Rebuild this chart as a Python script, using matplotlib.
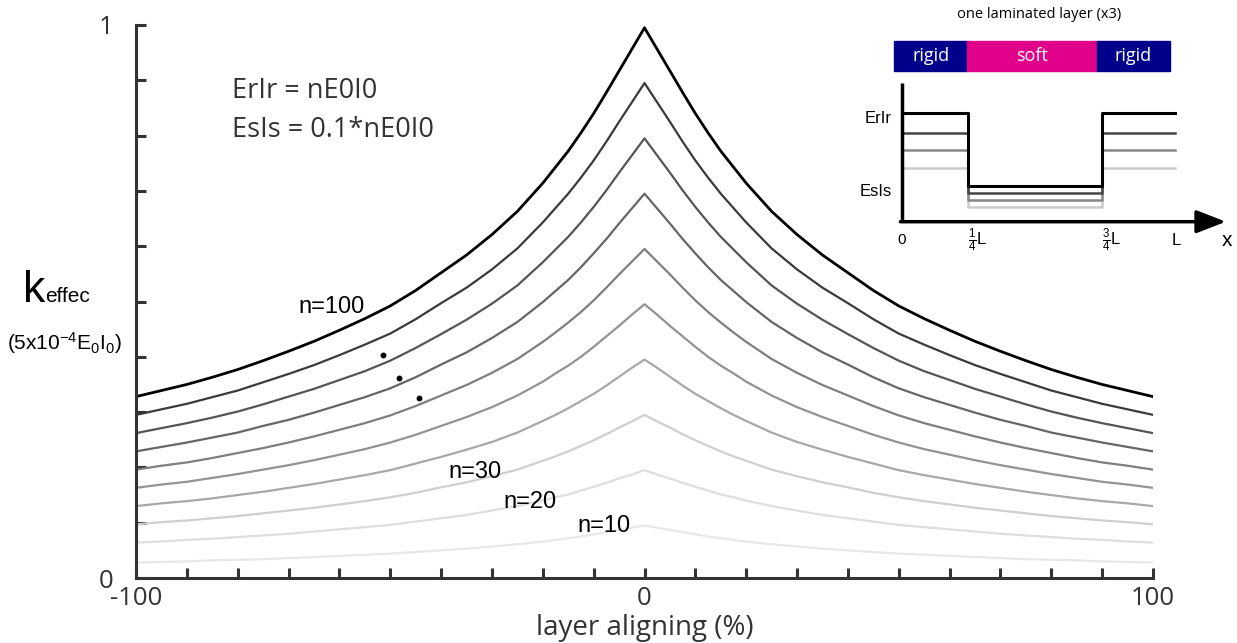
import matplotlib.pyplot as plt
from matplotlib.patches import Rectangle

plt.rcParams['font.family'] = ['Liberation Sans', 'DejaVu Sans']
plt.rcParams['mathtext.fontset'] = 'custom'
plt.rcParams['mathtext.rm'] = 'Liberation Sans'
plt.rcParams['mathtext.it'] = 'Liberation Sans:italic'
plt.rcParams['mathtext.bf'] = 'Liberation Sans:bold'

# curves are symmetric around 0, values read for 0..100
x_half = [0, 2.5, 5, 7.5, 10, 12.5, 15, 17.5, 20, 25, 30, 35, 40, 45, 50,
          55, 60, 65, 70, 75, 80, 85, 90, 95, 100]
n_values = [100, 90, 80, 70, 60, 50, 40, 30, 20, 10]
k_n100 = [0.995, 0.956, 0.917, 0.878, 0.840, 0.805, 0.772, 0.743, 0.714, 0.663, 0.621, 0.584, 0.552,
          0.520, 0.492, 0.469, 0.448, 0.428, 0.410, 0.393, 0.377, 0.363, 0.350, 0.339, 0.328]
k_n90 = [0.895, 0.860, 0.825, 0.789, 0.755, 0.724, 0.695, 0.669, 0.643, 0.596, 0.558, 0.525, 0.497,
         0.468, 0.442, 0.422, 0.403, 0.385, 0.369, 0.354, 0.339, 0.327, 0.315, 0.305, 0.295]
k_n80 = [0.795, 0.764, 0.733, 0.701, 0.671, 0.643, 0.617, 0.594, 0.571, 0.529, 0.496, 0.467, 0.441,
         0.416, 0.393, 0.374, 0.358, 0.342, 0.328, 0.314, 0.301, 0.290, 0.280, 0.271, 0.262]
k_n70 = [0.695, 0.668, 0.641, 0.613, 0.587, 0.562, 0.539, 0.519, 0.499, 0.463, 0.434, 0.408, 0.386,
         0.363, 0.343, 0.327, 0.313, 0.299, 0.286, 0.275, 0.263, 0.254, 0.245, 0.237, 0.229]
k_n60 = [0.595, 0.572, 0.549, 0.525, 0.502, 0.481, 0.462, 0.444, 0.427, 0.396, 0.371, 0.349, 0.330,
         0.311, 0.294, 0.280, 0.268, 0.256, 0.245, 0.235, 0.226, 0.217, 0.209, 0.203, 0.196]
k_n50 = [0.495, 0.476, 0.456, 0.437, 0.418, 0.400, 0.384, 0.370, 0.355, 0.330, 0.309, 0.291, 0.275,
         0.259, 0.245, 0.233, 0.223, 0.213, 0.204, 0.196, 0.188, 0.181, 0.174, 0.169, 0.163]
k_n40 = [0.395, 0.380, 0.364, 0.348, 0.333, 0.320, 0.307, 0.295, 0.284, 0.263, 0.246, 0.232, 0.219,
         0.207, 0.195, 0.186, 0.178, 0.170, 0.163, 0.156, 0.150, 0.144, 0.139, 0.135, 0.130]
k_n30 = [0.295, 0.283, 0.272, 0.260, 0.249, 0.239, 0.229, 0.220, 0.212, 0.196, 0.184, 0.173, 0.164,
         0.154, 0.146, 0.139, 0.133, 0.127, 0.122, 0.117, 0.112, 0.108, 0.104, 0.101, 0.097]
k_n20 = [0.195, 0.187, 0.180, 0.172, 0.165, 0.158, 0.151, 0.146, 0.140, 0.130, 0.122, 0.114, 0.108,
         0.102, 0.096, 0.092, 0.088, 0.084, 0.080, 0.077, 0.074, 0.071, 0.069, 0.066, 0.064]
k_n10 = [0.095, 0.091, 0.087, 0.083, 0.079, 0.075, 0.072, 0.069, 0.066, 0.061, 0.057, 0.053, 0.050,
         0.047, 0.044, 0.042, 0.040, 0.038, 0.036, 0.034, 0.033, 0.032, 0.030, 0.029, 0.028]
curves = [k_n100, k_n90, k_n80, k_n70, k_n60, k_n50, k_n40, k_n30, k_n20, k_n10]
curve_colors = ['#000000', '#3a3a3a', '#555555', '#666666', '#7f7f7f', '#939393',
                '#a8a8a8', '#cfcfcf', '#dedede', '#e8e8e8']

# the three dots between n=100 and the lower curves
dots_x = [-51.4, -48.2, -44.3]
dots_y = [0.403, 0.362, 0.325]

# inset: one laminated layer
bar_edges = [-0.028, 0.246, 0.731, 1.006]
bar_names = ['rigid', 'soft', 'rigid']
bar_colors = ['#00008b', '#e0008a', '#00008b']
layer_x = [0, 0.25, 0.25, 0.75, 0.75, 1.025]
rigid_levels = [1.0, 0.82, 0.66, 0.50]
soft_levels = [0.33, 0.265, 0.20, 0.133]
step_colors = ['#000000', '#444444', '#888888', '#cccccc']

W, H = 1237, 643


def fx(p):
    return p / W


def fy(p):
    return 1 - p / H


fig = plt.figure(figsize=(W / 100, H / 100), dpi=100)
ax = fig.add_axes([fx(136), fy(578), (1153 - 136) / W, (578 - 25) / H])

x_full = [-v for v in x_half[::-1]] + x_half[1:]
for k, c, n in list(zip(curves, curve_colors, n_values))[::-1]:
    y_full = k[::-1] + k[1:]
    lw = 2.0 if n == 100 else 1.6
    ax.plot(x_full, y_full, color=c, lw=lw, solid_joinstyle='round')

ax.plot(dots_x, dots_y, 'o', color='black', ms=3.2)

ax.set_xlim(-100, 100)
ax.set_ylim(0, 1)
for s in ['top', 'right']:
    ax.spines[s].set_visible(False)
for s in ['left', 'bottom']:
    ax.spines[s].set_color('#333333')
    ax.spines[s].set_linewidth(2.2)

xt = list(range(-100, 101, 10))
ax.set_xticks(xt)
ax.set_xticklabels([str(v) if v in (-100, 0, 100) else '' for v in xt],
                   fontfamily='Open Sans', fontsize=18.5, color='#333333')
yt = [i / 10 for i in range(11)]
ax.set_yticks(yt)
ax.set_yticklabels(['0'] + [''] * 9 + ['1'], fontfamily='Open Sans',
                   fontsize=18.5, color='#333333')
ax.tick_params(axis='both', direction='in', length=7, width=2.2, color='#333333')
ax.tick_params(axis='x', pad=6)
ax.tick_params(axis='y', pad=16)
ax.set_xlabel('layer aligning (%)', fontfamily='Open Sans', fontsize=20,
              color='#333333', labelpad=2)

# curve labels
ax.text(-61.5, 0.490, 'n=100', fontsize=17, ha='center', va='center')
ax.text(-33.4, 0.192, 'n=30', fontsize=17, ha='center', va='center')
ax.text(-22.6, 0.138, 'n=20', fontsize=17, ha='center', va='center')
ax.text(-8.0, 0.094, 'n=10', fontsize=17, ha='center', va='center')

# text in the figure
fig.text(fx(232), fy(91), 'ErIr = nE0I0', fontfamily='Open Sans', fontsize=19.5,
         color='#333333', va='center')
fig.text(fx(232), fy(130), 'EsIs = 0.1*nE0I0', fontfamily='Open Sans',
         fontsize=19.5, color='#333333', va='center')
fig.text(fx(23), fy(301.7), 'k', fontsize=32, va='baseline')
fig.text(fx(45), fy(301.7), 'effec', fontsize=15, va='baseline')
fig.text(fx(64), fy(343), r'(5x10$^{\mathregular{-4}}$E$_{\mathregular{0}}$I$_{\mathregular{0}}$)',
         fontsize=15, ha='center', va='center')

# inset
ins = fig.add_axes([fx(901.7), fy(221.7), 266.8 / W, 186.4 / H])
ins.set_xlim(0, 1)
ins.set_ylim(0, 1.72)
ins.axis('off')

for i in range(3):
    ins.add_patch(Rectangle((bar_edges[i], 1.39), bar_edges[i + 1] - bar_edges[i], 0.28,
                            color=bar_colors[i], clip_on=False))
    ins.text((bar_edges[i] + bar_edges[i + 1]) / 2, 1.53, bar_names[i], color='white',
             fontfamily='Open Sans', fontsize=13, ha='center', va='center')

for r, s, c in list(zip(rigid_levels, soft_levels, step_colors))[::-1]:
    lw = 2.2 if c == '#000000' else 1.8
    ins.plot(layer_x, [r, r, s, s, r, r], color=c, lw=lw, clip_on=False)

ins.plot([0, 0], [0, 1.28], color='black', lw=2.5, clip_on=False, solid_capstyle='butt')
ins.annotate('', xy=(1.215, 0), xytext=(-0.005, 0), annotation_clip=False,
             arrowprops=dict(arrowstyle='-|>,head_length=1.8,head_width=0.7',
                             mutation_scale=10, lw=2.5, color='black',
                             shrinkA=0, shrinkB=0))

ins.text(-0.038, 0.954, 'ErIr', fontsize=12, ha='right', va='center')
ins.text(-0.038, 0.277, 'EsIs', fontsize=12, ha='right', va='center')
ins.text(0, -0.169, '0', fontsize=11, ha='center', va='center')
ins.text(0.25, -0.169, r'$\frac{1}{4}$L', fontsize=12, ha='left', va='center')
ins.text(0.75, -0.169, r'$\frac{3}{4}$L', fontsize=12, ha='left', va='center')
ins.text(1.03, -0.169, 'L', fontsize=12, ha='center', va='center')
ins.text(1.218, -0.169, 'x', fontsize=15, ha='center', va='center')

fig.text(fx(1039), fy(14), 'one laminated layer (x3)', fontfamily='Open Sans',
         fontsize=10.5, ha='center', va='center')

fig.savefig('out.png', dpi=100)
